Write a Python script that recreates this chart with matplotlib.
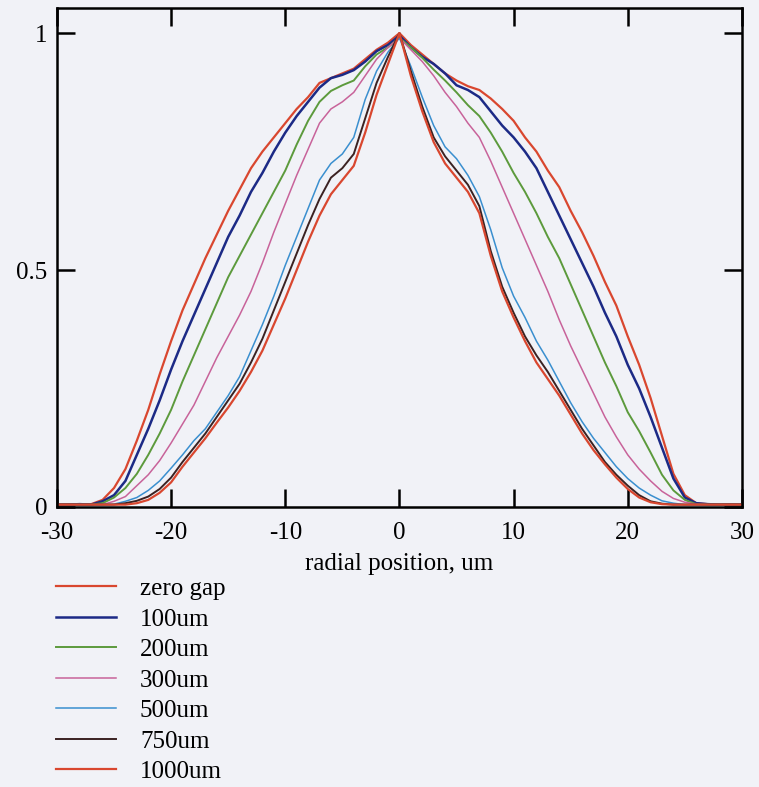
import numpy as np
import matplotlib
matplotlib.use('Agg')
import matplotlib.pyplot as plt

plt.rcParams['font.family'] = ['Liberation Serif', 'DejaVu Serif']
plt.rcParams['axes.unicode_minus'] = False

# radial position grid, um
radial = np.arange(-30, 31)

zero_gap = [0.005, 0.006, 0.005, 0.006, 0.015, 0.04, 0.08, 0.14, 0.205, 0.28, 0.35,
            0.415, 0.47, 0.525, 0.575, 0.625, 0.67, 0.715, 0.75, 0.78, 0.81,
            0.84, 0.865, 0.895, 0.905, 0.915, 0.925, 0.945, 0.965, 0.98, 1.0,
            0.975, 0.955, 0.935, 0.915, 0.9, 0.888, 0.88, 0.862, 0.84, 0.815,
            0.78, 0.75, 0.71, 0.675, 0.625, 0.58, 0.53, 0.475, 0.425, 0.36,
            0.3, 0.23, 0.15, 0.07, 0.025, 0.008, 0.006, 0.005, 0.006, 0.005]
gap_100 = [0.005, 0.005, 0.006, 0.005, 0.012, 0.025, 0.055, 0.11, 0.165, 0.225, 0.29,
           0.35, 0.405, 0.46, 0.515, 0.57, 0.615, 0.665, 0.705, 0.75, 0.79,
           0.825, 0.855, 0.885, 0.905, 0.912, 0.922, 0.94, 0.962, 0.975, 0.995,
           0.97, 0.95, 0.935, 0.915, 0.89, 0.88, 0.865, 0.835, 0.805, 0.78,
           0.75, 0.715, 0.665, 0.615, 0.565, 0.515, 0.465, 0.41, 0.36, 0.3,
           0.25, 0.19, 0.125, 0.06, 0.02, 0.008, 0.006, 0.005, 0.005, 0.005]
gap_200 = [0.005, 0.005, 0.005, 0.005, 0.008, 0.02, 0.04, 0.07, 0.11, 0.155, 0.205,
           0.265, 0.32, 0.375, 0.43, 0.485, 0.53, 0.575, 0.62, 0.665, 0.71,
           0.765, 0.815, 0.855, 0.878, 0.89, 0.9, 0.93, 0.955, 0.97, 0.99,
           0.97, 0.948, 0.923, 0.9, 0.875, 0.848, 0.825, 0.79, 0.75, 0.705,
           0.665, 0.62, 0.57, 0.525, 0.47, 0.415, 0.36, 0.305, 0.255, 0.2,
           0.16, 0.115, 0.068, 0.035, 0.015, 0.006, 0.005, 0.005, 0.005, 0.005]
gap_300 = [0.005, 0.005, 0.005, 0.005, 0.005, 0.012, 0.022, 0.045, 0.068, 0.098, 0.135,
           0.175, 0.215, 0.265, 0.315, 0.36, 0.405, 0.455, 0.515, 0.58, 0.64,
           0.7, 0.755, 0.81, 0.84, 0.855, 0.875, 0.91, 0.945, 0.97, 0.99,
           0.965, 0.94, 0.91, 0.875, 0.845, 0.81, 0.78, 0.73, 0.675, 0.62,
           0.565, 0.51, 0.455, 0.395, 0.34, 0.29, 0.24, 0.19, 0.148, 0.11,
           0.08, 0.055, 0.033, 0.018, 0.01, 0.006, 0.005, 0.005, 0.005, 0.005]
gap_500 = [0.005, 0.005, 0.005, 0.005, 0.005, 0.006, 0.012, 0.02, 0.035, 0.055, 0.082,
           0.11, 0.14, 0.165, 0.2, 0.235, 0.275, 0.33, 0.385, 0.445, 0.51,
           0.57, 0.63, 0.69, 0.725, 0.745, 0.78, 0.86, 0.92, 0.96, 0.99,
           0.93, 0.865, 0.805, 0.76, 0.735, 0.7, 0.655, 0.585, 0.505, 0.445,
           0.4, 0.35, 0.31, 0.265, 0.22, 0.18, 0.145, 0.115, 0.085, 0.06,
           0.04, 0.025, 0.013, 0.008, 0.005, 0.005, 0.005, 0.005, 0.005, 0.005]
gap_750 = [0.005, 0.005, 0.005, 0.005, 0.005, 0.005, 0.008, 0.013, 0.022, 0.038, 0.062,
           0.095, 0.125, 0.155, 0.19, 0.225, 0.26, 0.305, 0.355, 0.415, 0.475,
           0.535, 0.595, 0.65, 0.695, 0.715, 0.745, 0.82, 0.895, 0.95, 1.0,
           0.92, 0.845, 0.78, 0.74, 0.71, 0.68, 0.635, 0.54, 0.465, 0.41,
           0.36, 0.32, 0.285, 0.245, 0.205, 0.165, 0.13, 0.095, 0.068, 0.045,
           0.025, 0.012, 0.007, 0.005, 0.005, 0.005, 0.005, 0.005, 0.005, 0.005]
gap_1000 = [0.005, 0.005, 0.005, 0.005, 0.005, 0.005, 0.005, 0.008, 0.015, 0.03, 0.052,
            0.085, 0.115, 0.145, 0.178, 0.21, 0.245, 0.285, 0.33, 0.385, 0.44,
            0.5, 0.56, 0.615, 0.66, 0.69, 0.72, 0.79, 0.87, 0.935, 1.0,
            0.91, 0.835, 0.77, 0.725, 0.695, 0.665, 0.62, 0.53, 0.455, 0.4,
            0.35, 0.305, 0.27, 0.235, 0.195, 0.155, 0.12, 0.09, 0.062, 0.038,
            0.02, 0.01, 0.006, 0.005, 0.005, 0.005, 0.005, 0.005, 0.005, 0.005]

labels = ['zero gap', '100um', '200um', '300um', '500um', '750um', '1000um']
series = [zero_gap, gap_100, gap_200, gap_300, gap_500, gap_750, gap_1000]
colors = ['#d9472f', '#1c2a86', '#5c9a3c', '#c8639a', '#3a8fcf', '#3b2222', '#d9472f']
widths = [1.6, 1.8, 1.4, 1.1, 1.1, 1.4, 1.6]

bg = '#f1f2f7'
fig = plt.figure(figsize=(7.59, 7.87), dpi=100, facecolor=bg)
ax = fig.add_axes([0.075, 0.3558, 0.9025, 0.634])
ax.set_facecolor(bg)

for y, c, lw, lab in zip(series, colors, widths, labels):
    ax.plot(radial, y, color=c, lw=lw, label=lab)

ax.set_xlim(-30, 30)
ax.set_ylim(0, 1.053)
ax.set_xticks([-30, -20, -10, 0, 10, 20, 30])
ax.set_yticks([0, 0.5, 1])
ax.set_yticklabels(['0', '0.5', '1'])
ax.tick_params(direction='in', length=13, width=1.8, top=True, right=True,
               labelsize=18, colors='black')
ax.tick_params(axis='x', pad=11)
ax.tick_params(axis='y', pad=7)
for s in ax.spines.values():
    s.set_linewidth(1.8)
ax.set_xlabel('radial position, um', fontsize=18, labelpad=6)

ax.legend(loc='upper left', bbox_to_anchor=(0.074, 0.266), bbox_transform=fig.transFigure,
          frameon=False, fontsize=18, handlelength=2.4, handletextpad=0.95,
          labelspacing=0.32, borderpad=0, borderaxespad=0)

fig.savefig('out.png', dpi=100, facecolor=bg)
